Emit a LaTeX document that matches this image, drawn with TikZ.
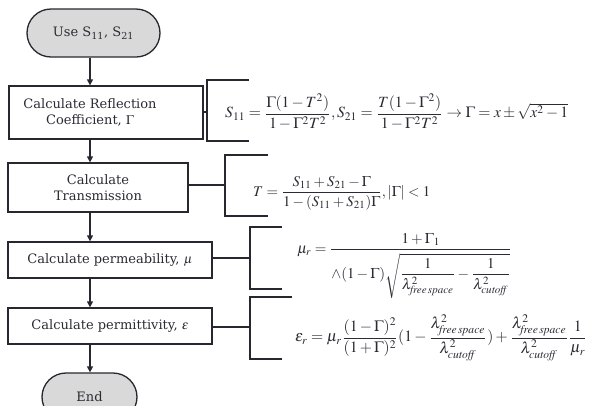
\documentclass[tikz,border=0pt]{standalone}
\usepackage{amsmath}
\usepackage{mathptmx}
\usepackage[no-math]{fontspec}
\setmainfont{DejaVu Serif}
\usepackage{graphicx}
\usetikzlibrary{arrows.meta,shapes.misc}
\definecolor{ink}{HTML}{2B2B35}
\definecolor{pill}{HTML}{D9D9D9}
\begin{document}
\begin{tikzpicture}[x=1pt,y=-1pt,
  ln/.style={draw=ink!90!black,line width=1.3pt},
  arr/.style={ln,-{Triangle[length=6pt,width=6pt]}},
  stepbox/.style={ln,rectangle,align=center,text=ink,font=\fontsize{13}{16}\selectfont,inner sep=0pt},
  lbl/.style={align=center,text=ink,font=\fontsize{13}{16}\selectfont,inner sep=0pt},
  term/.style={ln,rounded rectangle,fill=pill,text=ink,font=\fontsize{13}{16}\selectfont,inner sep=0pt},
  eqn/.style={anchor=west,inner sep=0pt,text=ink}]
\clip (0,0) rectangle (596,405);
\fill[white] (0,0) rectangle (596,405);
\coordinate (ax) at (90,0);
% flow nodes
\node[term,minimum width=133pt,minimum height=48pt] (s) at (93.5,33) {Use S\textsubscript{11}, S\textsubscript{21}};
\node[stepbox,minimum width=194pt,minimum height=53pt] (b1) at (106,112.5) {};
\node[lbl] (t1) at (90,112.5) {Calculate Reflection\\Coefficient, $\Gamma$};
\node[stepbox,minimum width=180pt,minimum height=49pt] (b2) at (98,187.5) {Calculate\\Transmission};
\node[stepbox,minimum width=204pt,minimum height=36pt] (b3) at (110,260) {Calculate permeability, $\mu$};
\node[stepbox,minimum width=204pt,minimum height=36pt] (b4) at (110,326) {Calculate permittivity, $\varepsilon$};
\node[term,minimum width=95pt,minimum height=48pt] (e) at (89.5,397) {End};
% arrows
\draw[arr] (s.south -| ax) -- (b1.north -| ax);
\draw[arr] (b1.south -| ax) -- (b2.north -| ax);
\draw[arr] (b2.south -| ax) -- (b3.north -| ax);
\draw[arr] (b3.south -| ax) -- (b4.north -| ax);
\draw[arr] (b4.south -| ax) -- (e.north -| ax);
% brackets
\coordinate (k1) at (207,112);
\coordinate (k2) at (225,185);
\coordinate (k3) at (250,258);
\coordinate (k4) at (250,327);
\draw[ln] (b1.east |- k1) -- (k1);
\draw[ln] (249,80) -- (207,80) -- (207,141) -- (249,141);
\draw[ln] (b2.east |- k2) -- (k2);
\draw[ln] (268,155) -- (225,155) -- (225,216) -- (268,216);
\draw[ln] (b3.east |- k3) -- (k3);
\draw[ln] (282,227) -- (250,227) -- (250,289) -- (282,289);
\draw[ln] (b4.east |- k4) -- (k4);
\draw[ln] (292,297) -- (250,297) -- (250,359) -- (282,359);
% equations
\node[eqn] (q1) at (225,112) {\resizebox{343pt}{!}{$S_{11}=\dfrac{\Gamma(1-T^2)}{1-\Gamma^2T^2},S_{21}=\dfrac{T(1-\Gamma^2)}{1-\Gamma^2T^2}\rightarrow\Gamma=x\pm\sqrt{x^2-1}$}};
\node[eqn] (q2) at (253,193) {\resizebox{177pt}{!}{$T=\dfrac{S_{11}+S_{21}-\Gamma}{1-(S_{11}+S_{21})\Gamma},|\Gamma|<1$}};
\node[eqn] (q3) at (297,266) {\resizebox{215pt}{!}{$\mu_r=\genfrac{}{}{0.8pt}{0}{1+\Gamma_1}{\wedge(1-\Gamma)\sqrt{\dfrac{1}{\lambda^2_{\mathit{free\,space}}}-\dfrac{1}{\lambda^2_{\mathit{cutoff}}}}}$}};
\node[eqn] (q4) at (295,338) {\resizebox{292pt}{!}{$\varepsilon_r=\mu_r\dfrac{(1-\Gamma)^2}{(1+\Gamma)^2}(1-\dfrac{\lambda^2_{\mathit{free\,space}}}{\lambda^2_{\mathit{cutoff}}})+\dfrac{\lambda^2_{\mathit{free\,space}}}{\lambda^2_{\mathit{cutoff}}}\dfrac{1}{\mu_r}$}};
\end{tikzpicture}
\end{document}
